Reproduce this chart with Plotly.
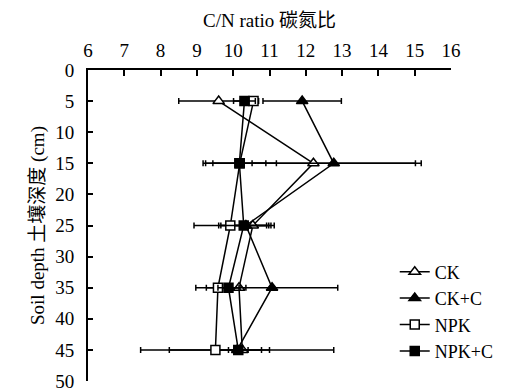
import plotly.graph_objects as go

# Soil depth (cm) and C/N ratio per treatment, with horizontal error bars
depth = [5, 15, 25, 35, 45]

ck = [9.60, 12.21, 10.54, 10.16, 10.25]
ck_err = [1.10, 2.97, 0.59, 0.19, 0.75]

ckc = [11.90, 12.77, 10.35, 11.07, 10.11]
ckc_err = [1.08, 2.25, 0.69, 1.81, 2.66]

npk = [10.56, 10.18, 9.92, 9.58, 9.51]
npk_err = [0.10, 1.01, 1.00, 0.61, 1.27]

npkc = [10.31, 10.17, 10.29, 9.87, 10.14]
npkc_err = [0.30, 0.73, 0.69, 0.29, 0.27]

x_ticks = list(range(6, 17))
y_ticks = list(range(0, 51, 5))

SERIF = "Liberation Serif"
FONT = "Liberation Serif, Noto Sans CJK SC, serif"

series = [
    ("CK", ck, ck_err, "triangle-up", "white", 10),
    ("CK+C", ckc, ckc_err, "triangle-up", "black", 10),
    ("NPK", npk, npk_err, "square", "white", 9),
    ("NPK+C", npkc, npkc_err, "square", "black", 9),
]

fig = go.Figure()
for name, vals, errs, sym, fill, size in series:
    fig.add_trace(go.Scatter(
        x=vals, y=depth, name=name, mode="lines+markers",
        line=dict(color="black", width=1.5),
        marker=dict(symbol=sym, size=size, color=fill,
                    line=dict(color="black", width=1.5)),
        error_x=dict(type="data", array=errs, visible=True,
                     color="black", thickness=1.5, width=3),
    ))

fig.update_layout(
    width=510, height=392,
    margin=dict(l=88, r=51, t=70, b=11),
    paper_bgcolor="white", plot_bgcolor="white",
    font=dict(family=FONT, size=19, color="black"),
    showlegend=True,
    legend=dict(x=0.845, y=0.41, xanchor="left", yanchor="top",
                bgcolor="rgba(0,0,0,0)",
                font=dict(family=SERIF, size=18, color="black"),
                tracegroupgap=0, itemwidth=30),
    xaxis=dict(
        side="top", range=[6, 16], tickvals=x_ticks, automargin=False,
        ticks="inside", ticklen=6, tickwidth=1.5, tickcolor="black",
        showline=True, linecolor="black", linewidth=2,
        showgrid=False, zeroline=False, ticklabelstandoff=3,
        ticklabeloverflow="allow",
        tickfont=dict(family=SERIF, size=19, color="black"),
        title=dict(text="C/N ratio 碳氮比", standoff=8,
                   font=dict(family=FONT, size=19, color="black")),
    ),
    yaxis=dict(
        range=[50, 0], tickvals=y_ticks, automargin=False,
        ticks="inside", ticklen=5, tickwidth=1.5, tickcolor="black",
        showline=True, linecolor="black", linewidth=2,
        showgrid=False, zeroline=False, ticklabelstandoff=8,
        ticklabeloverflow="allow",
        tickfont=dict(family=SERIF, size=19, color="black"),
        title=dict(text="Soil depth 土壤深度 (cm)", standoff=6,
                   font=dict(family=FONT, size=19, color="black")),
    ),
)

fig.write_html("out.html")
